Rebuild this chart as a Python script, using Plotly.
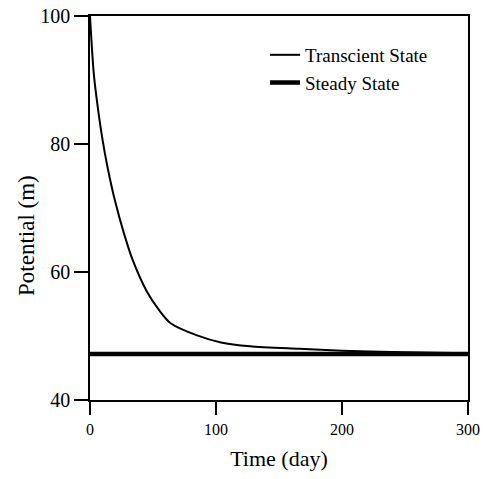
import plotly.graph_objects as go

# Data
transient_day = [0, 3, 6, 10, 14, 20, 27, 34, 45, 55, 64, 85, 104, 127, 166, 200, 240, 300]
transient_pot = [100, 91, 86, 80.6, 76.3, 71, 66, 61.8, 57, 54, 52, 50.1, 49.0, 48.4, 48.0, 47.7, 47.5, 47.3]
steady_day = [0, 300]
steady_pot = [47.2, 47.2]

x_ticks = [0, 100, 200, 300]
y_ticks = [40, 60, 80, 100]

FONT = "Liberation Serif"

fig = go.Figure()
fig.add_trace(go.Scatter(x=transient_day, y=transient_pot, mode="lines",
                         name="Transcient State",
                         line=dict(color="black", width=2, shape="spline", smoothing=0.8)))
fig.add_trace(go.Scatter(x=steady_day, y=steady_pot, mode="lines",
                         name="Steady State",
                         line=dict(color="black", width=4.5)))

fig.update_layout(
    width=483, height=479,
    margin=dict(l=90, r=15, t=16, b=79),
    paper_bgcolor="white", plot_bgcolor="white",
    font=dict(family=FONT, color="black"),
    showlegend=True,
    legend=dict(x=0.463, y=0.948, xanchor="left", yanchor="top",
                bgcolor="rgba(0,0,0,0)", borderwidth=0,
                font=dict(family=FONT, size=19, color="black"),
                tracegroupgap=0),
    xaxis=dict(range=[0, 300], tickvals=x_ticks, ticktext=[str(v) for v in x_ticks],
               automargin=False, ticklabeloverflow="allow",
               showgrid=False, zeroline=False,
               showline=True, linecolor="black", linewidth=1.5, mirror=True,
               ticks="outside", ticklen=13, tickwidth=1.5, tickcolor="black",
               ticklabelstandoff=1,
               tickfont=dict(family=FONT, size=16, color="black"),
               title=dict(text="Time (day)", standoff=14,
                          font=dict(family=FONT, size=22, color="black"))),
    yaxis=dict(range=[40, 100], tickvals=y_ticks, ticktext=[str(v) for v in y_ticks],
               automargin=False, ticklabeloverflow="allow",
               showgrid=False, zeroline=False,
               showline=True, linecolor="black", linewidth=1.5, mirror=True,
               ticks="outside", ticklen=14, tickwidth=1.5, tickcolor="black",
               tickfont=dict(family=FONT, size=20, color="black")),
    annotations=[dict(text="Potential (m)", textangle=-90,
                      xref="paper", yref="paper",
                      x=(26 - 90) / 378, y=1 - (236 - 16) / 384,
                      xanchor="center", yanchor="middle", showarrow=False,
                      font=dict(family=FONT, size=23, color="black"))],
)

fig.write_html("out.html",
               config={"displayModeBar": False},
               post_script="document.body.style.margin='0';document.body.style.overflow='hidden';")
